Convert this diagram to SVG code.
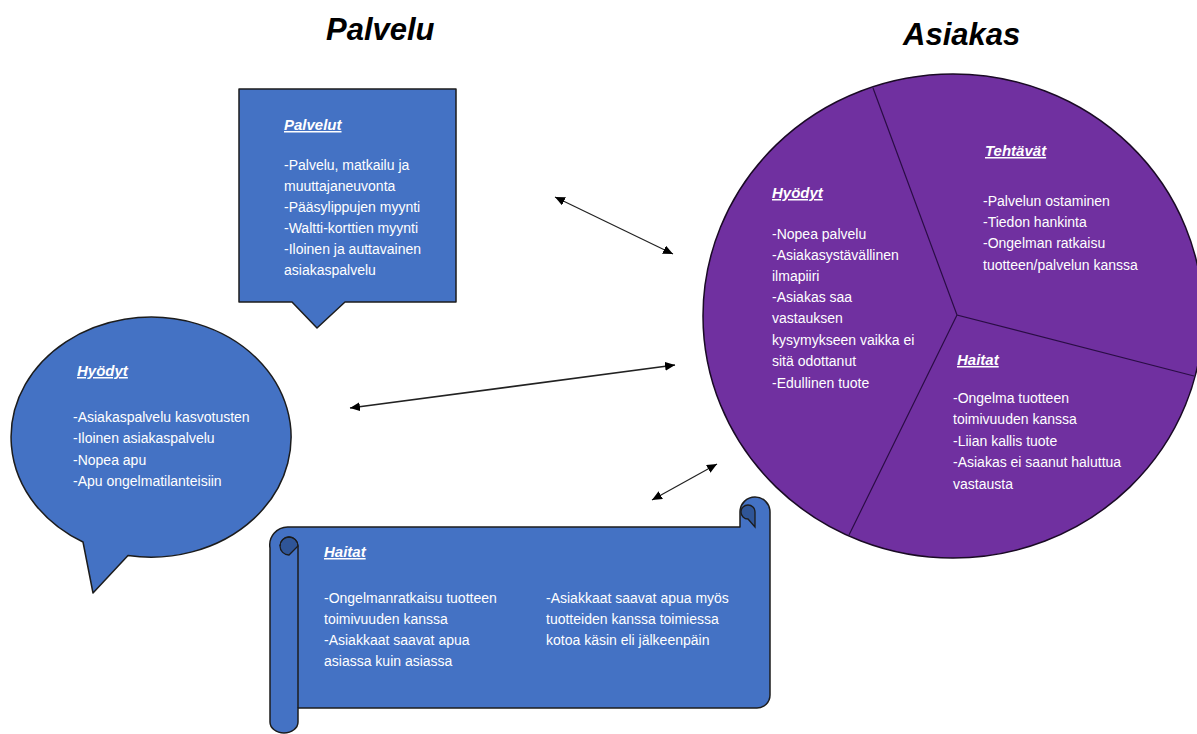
<svg xmlns="http://www.w3.org/2000/svg" width="1197" height="734" viewBox="0 0 1197 734">
<style>
.title{font-family:"Liberation Sans",Arial,sans-serif;font-size:31px;font-weight:bold;font-style:italic;fill:#000}
.h{font-family:"Liberation Sans",Arial,sans-serif;font-size:15px;font-weight:bold;font-style:italic;fill:#fff;text-decoration:underline}
.t{font-family:"Liberation Sans",Arial,sans-serif;font-size:14px;fill:#fff}
.blue{fill:#4472C4;stroke:#1c1c1c;stroke-width:1.5;stroke-linejoin:round}
.purple{fill:#7030A0;stroke:#1a0a25;stroke-width:1.5}
.div{stroke:#2a0d45;stroke-width:1.2;fill:none}
.arr{stroke:#222;fill:none;marker-start:url(#ah);marker-end:url(#ah)}
</style>
<defs>
<marker id="ah" markerUnits="userSpaceOnUse" markerWidth="11" markerHeight="10" refX="10" refY="4.5" orient="auto-start-reverse">
<path d="M0,0 L10,4.5 L0,9 Z" fill="#000"/>
</marker>
</defs>
<rect width="1197" height="734" fill="#fff"/>

<g id="titles">
<text class="title" x="326" y="40">Palvelu</text>
<text class="title" x="903" y="45">Asiakas</text>
</g>

<g id="palvelut">
<path class="blue" d="M239 89 H456 V302 H345 L317 328 L292 302 H239 Z"/>
<text class="h" x="284" y="130">Palvelut</text>
<text class="t" x="284" y="170">-Palvelu, matkailu ja</text>
<text class="t" x="284" y="191">muuttajaneuvonta</text>
<text class="t" x="284" y="212">-Pääsylippujen myynti</text>
<text class="t" x="284" y="233">-Waltti-korttien myynti</text>
<text class="t" x="284" y="254">-Iloinen ja auttavainen</text>
<text class="t" x="284" y="275">asiakaspalvelu</text>
</g>

<g id="hyodyt-palvelu">
<path class="blue" d="M83 542 A140 120 0 1 1 128 555.5 L93 593 Z"/>
<text class="h" x="77" y="376">Hyödyt</text>
<text class="t" x="73" y="422">-Asiakaspalvelu kasvotusten</text>
<text class="t" x="73" y="443">-Iloinen asiakaspalvelu</text>
<text class="t" x="73" y="465">-Nopea apu</text>
<text class="t" x="73" y="486">-Apu ongelmatilanteisiin</text>
</g>

<g id="haitat-palvelu">
<path class="blue" d="M270 548 A18 18 0 0 1 288 527 H740 V512 A15 15 0 0 1 770 512 V695 A13 13 0 0 1 757 708 H298 V722 A14 11 0 0 1 270 722 Z"/>
<path class="blue" d="M298 546 V708" fill="none"/>
<path d="M298 546 A9 9 0 0 0 280 546 A9 9 0 0 0 289 555 Z" fill="#2F5597" stroke="#1c1c1c" stroke-width="1.3"/>
<path d="M280 546 A9 9 0 0 1 298 546" fill="none" stroke="#1c1c1c" stroke-width="1.3"/>
<path d="M755 527 V512 A7 7 0 0 0 741 512 A7 7 0 0 0 748 519 Z" fill="#2F5597" stroke="#1c1c1c" stroke-width="1.3"/>
<text class="h" x="324" y="557">Haitat</text>
<text class="t" x="324" y="603">-Ongelmanratkaisu tuotteen</text>
<text class="t" x="324" y="624">toimivuuden kanssa</text>
<text class="t" x="324" y="645">-Asiakkaat saavat apua</text>
<text class="t" x="324" y="666">asiassa kuin asiassa</text>
<text class="t" x="546" y="603">-Asiakkaat saavat apua myös</text>
<text class="t" x="546" y="624">tuotteiden kanssa toimiessa</text>
<text class="t" x="546" y="645">kotoa käsin eli jälkeenpäin</text>
</g>

<g id="asiakas">
<ellipse class="purple" cx="953" cy="316" rx="250" ry="242"/>
<path class="div" d="M873 88 L957 315 L1194 376 M957 315 L849 535"/>
<text class="h" x="985" y="156">Tehtävät</text>
<text class="t" x="983" y="206">-Palvelun ostaminen</text>
<text class="t" x="983" y="227">-Tiedon hankinta</text>
<text class="t" x="983" y="248">-Ongelman ratkaisu</text>
<text class="t" x="983" y="270">tuotteen/palvelun kanssa</text>
<text class="h" x="772" y="198">Hyödyt</text>
<text class="t" x="772" y="239">-Nopea palvelu</text>
<text class="t" x="772" y="260">-Asiakasystävällinen</text>
<text class="t" x="772" y="281">ilmapiiri</text>
<text class="t" x="772" y="302">-Asiakas saa</text>
<text class="t" x="772" y="323">vastauksen</text>
<text class="t" x="772" y="345">kysymykseen vaikka ei</text>
<text class="t" x="772" y="366">sitä odottanut</text>
<text class="t" x="772" y="388">-Edullinen tuote</text>
<text class="h" x="957" y="365">Haitat</text>
<text class="t" x="953" y="403">-Ongelma tuotteen</text>
<text class="t" x="953" y="424">toimivuuden kanssa</text>
<text class="t" x="953" y="446">-Liian kallis tuote</text>
<text class="t" x="953" y="467">-Asiakas ei saanut haluttua</text>
<text class="t" x="953" y="489">vastausta</text>
</g>

<g id="connectors">
<line class="arr" x1="555" y1="197" x2="673" y2="254" stroke-width="1.2"/>
<line class="arr" x1="350" y1="408" x2="675" y2="365" stroke-width="1.6"/>
<line class="arr" x1="652" y1="500" x2="717" y2="464" stroke-width="1.2"/>
</g>
</svg>
